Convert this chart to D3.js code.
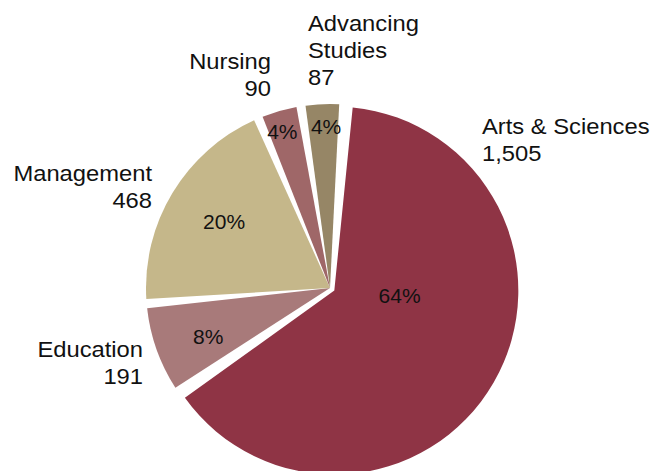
<!DOCTYPE html>
<html>
<head>
<meta charset="utf-8">
<script src="https://cdn.jsdelivr.net/npm/d3@7"></script>
<style>
  body { margin: 0; background: #fff; }
  svg { display: block; }
  text { font-family: "Liberation Sans", Arial, Helvetica, sans-serif; fill: #111; }
</style>
</head>
<body>
<div id="chart"></div>
<script>
// data
const schools = ["Arts & Sciences", "Education", "Management", "Nursing", "Advancing\nStudies"];
const students = [1505, 191, 468, 90, 87];
const colors = ["#8f3445", "#a87a7a", "#c5b78a", "#9f6768", "#968666"];

const width = 654, height = 471;
const cx = 330, cy = 288, radius = 184;
const explode = [5, 0, 0, 0, 0];

// percent label placement: [angle shift in degrees, distance from centre]
const pctPos = [[-24, 70], [-2, 131], [1, 125], [-1, 163], [1, 161]];
// category label placement (first baseline)
const catPos = [
  { x: 482, y: 134, anchor: "start" },
  { x: 143, y: 357, anchor: "end" },
  { x: 152, y: 181, anchor: "end" },
  { x: 271, y: 69, anchor: "end" },
  { x: 308, y: 31, anchor: "start" }
];

const data = schools.map((s, i) => ({ name: s, value: students[i], color: colors[i] }));
const total = d3.sum(students);
const fmtPct = d3.format(".0%");
const fmtNum = d3.format(",");

const svg = d3.select("#chart").append("svg")
  .attr("width", width)
  .attr("height", height);

const start = 0.075;
const pie = d3.pie()
  .sort(null)
  .value(d => d.value)
  .startAngle(start)
  .endAngle(start + 2 * Math.PI);

const arc = d3.arc()
  .innerRadius(0)
  .outerRadius(radius)
  .padAngle(0.05);

const arcs = pie(data);
const g = svg.append("g").attr("transform", `translate(${cx},${cy})`);

g.selectAll("path.slice")
  .data(arcs)
  .enter()
  .append("path")
  .attr("class", "slice")
  .attr("fill", d => d.data.color)
  .attr("transform", (d, i) => {
    const a = (d.startAngle + d.endAngle) / 2;
    return `translate(${Math.sin(a) * explode[i]},${-Math.cos(a) * explode[i]})`;
  })
  .attr("d", arc);

// percentages inside slices
g.selectAll("text.pct")
  .data(arcs)
  .enter()
  .append("text")
  .attr("class", "pct")
  .attr("text-anchor", "middle")
  .attr("dy", "0.35em")
  .style("font-size", "21px")
  .attr("transform", (d, i) => {
    const a = (d.startAngle + d.endAngle) / 2 + pctPos[i][0] * Math.PI / 180;
    const r = pctPos[i][1];
    return `translate(${Math.sin(a) * r},${-Math.cos(a) * r})`;
  })
  .text(d => fmtPct(d.data.value / total));

// category names and counts
const labels = svg.selectAll("text.cat")
  .data(arcs)
  .enter()
  .append("text")
  .attr("class", "cat")
  .attr("text-anchor", (d, i) => catPos[i].anchor)
  .style("font-size", "22px")
  .attr("transform", (d, i) => `translate(${catPos[i].x},${catPos[i].y}) scale(1.08,1)`);

labels.each(function (d) {
  const lines = d.data.name.split("\n").concat([fmtNum(d.data.value)]);
  d3.select(this).selectAll("tspan")
    .data(lines)
    .enter()
    .append("tspan")
    .attr("x", 0)
    .attr("y", (l, j) => j * 27)
    .text(l => l);
});
</script>
</body>
</html>
